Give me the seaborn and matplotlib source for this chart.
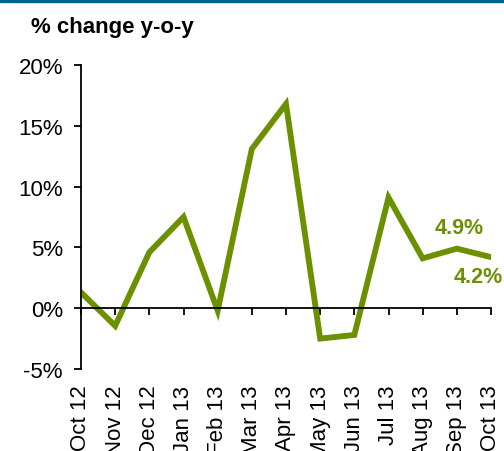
import numpy as np
import pandas as pd
import matplotlib
matplotlib.use("Agg")
import matplotlib.pyplot as plt
import seaborn as sns
from matplotlib.patches import Rectangle

# monthly values
months = ["Oct 12", "Nov 12", "Dec 12", "Jan 13", "Feb 13", "Mar 13", "Apr 13",
          "May 13", "Jun 13", "Jul 13", "Aug 13", "Sep 13", "Oct 13"]
change = [1.3, -1.45, 4.6, 7.5, -0.2, 13.1, 16.8, -2.5, -2.2, 9.1, 4.1, 4.9, 4.2]
yticks = [-5, 0, 5, 10, 15, 20]

green = "#6B9100"

df = pd.DataFrame({"month": months, "change": change})
df["pos"] = np.arange(len(df))

sns.set_style("white")
plt.rcParams["font.family"] = ["Liberation Sans", "DejaVu Sans"]
plt.rcParams["text.color"] = "black"
plt.rcParams["xtick.color"] = "black"
plt.rcParams["ytick.color"] = "black"

fig = plt.figure(figsize=(5.04, 4.52), dpi=100)
ax = fig.add_axes([81 / 504, 82 / 452, 410 / 504, 304 / 452])

sns.lineplot(data=df, x="pos", y="change", color=green, linewidth=4.2,
             solid_joinstyle="miter", ax=ax)

ax.set_xlim(0, len(months) - 1)
ax.set_ylim(-5, 20)
ax.set_yticks(yticks)
ax.set_yticklabels([f"{t}%" for t in yticks])
ax.set_xticks(df["pos"])
ax.set_xticklabels(months)
ax.set_xlabel("")
ax.set_ylabel("")

ax.spines["top"].set_visible(False)
ax.spines["right"].set_visible(False)
ax.spines["bottom"].set_position(("data", 0))
for s in ["left", "bottom"]:
    ax.spines[s].set_color("black")
    ax.spines[s].set_linewidth(1.3)

ax.tick_params(axis="y", direction="out", length=5, width=1.3, labelsize=16, pad=8,
               left=True, colors="black")
ax.tick_params(axis="x", direction="out", length=5, width=1.3, labelsize=16, pad=50,
               bottom=True, labelrotation=90, colors="black")
for lab in ax.get_xticklabels():
    lab.set_va("top")
    lab.set_ha("center")

# end labels
ax.annotate(f"{change[-2]}%", (df["pos"].iloc[-2], change[-2]), xytext=(2, 15),
            textcoords="offset points", ha="center", va="center",
            color=green, fontsize=15.5, fontweight="bold")
ax.annotate(f"{change[-1]}%", (df["pos"].iloc[-1], change[-1]), xytext=(-9, -14),
            textcoords="offset points", ha="center", va="center",
            color=green, fontsize=15.5, fontweight="bold")

fig.text(31 / 504, 1 - 27 / 452, "% change y-o-y", fontsize=16, fontweight="bold",
         ha="left", va="center", color="black")

# header band
fig.add_artist(Rectangle((0, 1 - 3 / 452), 1, 3 / 452, transform=fig.transFigure,
                         color="#00648C", clip_on=False))

fig.savefig("out.png", dpi=100)
